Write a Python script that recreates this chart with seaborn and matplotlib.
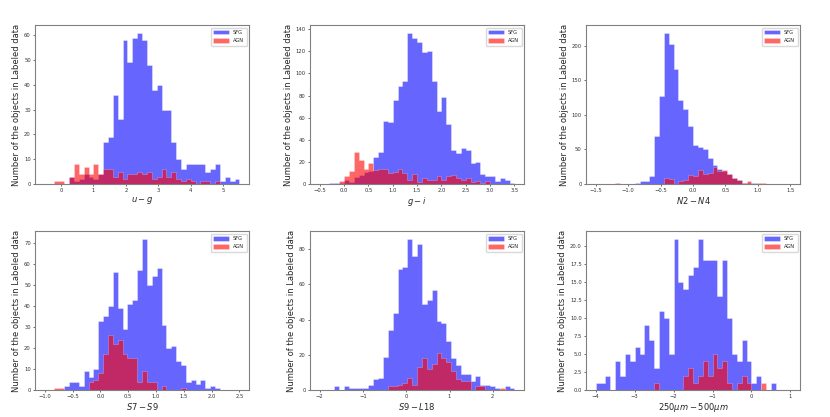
import numpy as np
import pandas as pd
import matplotlib
matplotlib.use('Agg')
import matplotlib.pyplot as plt
import seaborn as sns
from matplotlib.ticker import MultipleLocator

sns.set_style('ticks')
plt.rcParams['font.family'] = ['DejaVu Sans']
plt.rcParams['mathtext.fontset'] = 'dejavusans'
plt.rcParams['axes.edgecolor'] = '#808080'
plt.rcParams['axes.linewidth'] = 0.8

# counts per bin, 40 shared bins per panel (SFG = blue, AGN = red)
ug_range = (-0.5, 5.5)
sfg_ug = [0,0,0,0,0,3,1,2,4,3,2,4,17,19,36,26,58,49,59,61,58,48,38,40,30,30,17,10,6,8,8,8,8,5,6,8,1,3,1,2]
agn_ug = [0,0,1,1,0,3,8,4,7,4,8,4,6,6,3,5,2,4,4,5,4,5,2,3,6,3,5,2,1,2,1,0,1,1,0,1,0,0,0,0]

gi_range = (-0.5, 3.5)
sfg_gi = [0,0,1,1,1,4,2,6,8,11,12,24,29,57,56,76,89,93,137,132,128,119,120,93,66,79,54,31,28,33,31,19,20,9,7,7,3,5,4,1]
agn_gi = [0,0,0,0,3,7,12,29,22,14,19,13,14,14,10,11,14,10,4,9,2,5,4,4,7,4,7,8,5,4,5,2,3,1,3,0,0,0,0,0]

n24_range = (-1.5, 1.5)
sfg_n24 = [0]*8 + [2,4,4,11,69,127,219,203,167,122,109,84,56,53,51,37,27,21,19,14,8,6,2,1,1] + [0]*7
agn_n24 = [0]*4 + [1,0,0,0,0,0,0,0,0,0,8,7,0,5,6,13,12,20,14,16,25,19,20,14,8,6,2,4,0,1,1] + [0]*5

s79_range = (-1.0, 2.5)
sfg_s79 = [0]*4 + [2,4,4,2,9,6,10,33,35,40,56,39,29,41,43,57,72,50,54,58,31,20,21,14,12,4,5,3,5,1,2,1] + [0]*4
agn_s79 = [0,0] + [1,1,0,0,0,0,0,4,5,8,17,26,22,24,17,15,15,4,9,4,4,0,2,0,0,0,1] + [0]*11

s9l18_range = (-2.0, 2.5)
sfg_s9l18 = [0,0,0,2,0,2,1,1,1,1,3,6,7,19,34,44,69,70,86,76,83,49,51,57,39,38,28,18,14,9,9,5,8,3,3,2,1,0,2,1]
agn_s9l18 = [0]*14 + [2,2,3,4,7,3,13,18,12,15,21,18,16,11,6,5,5,0,2,2,0,0,0,1] + [0]*2

fir_range = (-4.0, 1.0)
sfg_fir = [1,1,2,0,4,2,5,4,6,5,9,7,3,11,10,5,21,15,14,16,17,21,18,18,18,13,18,10,5,4,7,4,1,2,0,0,1,0,0,0]
agn_fir = [0]*12 + [1,0,0,0,0,0,2,3,1,2,4,2,5,3,4,1,0,1,2,1,0,0,1] + [0]*5

xlabels = [r'$u-g$', r'$g-i$', r'$N2-N4$', r'$S7-S9$', r'$S9-L18$', r'$250\mu m-500\mu m$']
xsteps = [1, 0.5, 0.5, 0.5, 1, 1]
ysteps = [10, 20, 50, 10, 20, 2.5]

panels = [(ug_range, sfg_ug, agn_ug), (gi_range, sfg_gi, agn_gi), (n24_range, sfg_n24, agn_n24),
          (s79_range, sfg_s79, agn_s79), (s9l18_range, sfg_s9l18, agn_s9l18), (fir_range, sfg_fir, agn_fir)]

fig = plt.figure(figsize=(8.3, 4.17), dpi=100)
lefts = [0.0422, 0.3735, 0.706]
bottoms = [0.5588, 0.0647]

for i, (rng, sfg, agn) in enumerate(panels):
    ax = fig.add_axes([lefts[i % 3], bottoms[i // 3], 0.258, 0.3813])
    edges = np.linspace(rng[0], rng[1], len(sfg) + 1)
    centers = (edges[:-1] + edges[1:]) / 2
    df = pd.DataFrame({'x': centers, 'sfg': sfg, 'agn': agn})
    sns.histplot(data=df, x='x', weights='sfg', bins=list(edges), element='step', color='blue', alpha=0.6,
                 edgecolor=(1, 1, 1, 0.45), linewidth=0.5, label='SFG', ax=ax)
    sns.histplot(data=df, x='x', weights='agn', bins=list(edges), element='step', color='red', alpha=0.6,
                 edgecolor=(1, 1, 1, 0.3), linewidth=0.5, label='AGN', ax=ax)
    pad = 0.05 * (rng[1] - rng[0])
    ax.set_xlim(rng[0] - pad, rng[1] + pad)
    ax.xaxis.set_major_locator(MultipleLocator(xsteps[i]))
    ax.yaxis.set_major_locator(MultipleLocator(ysteps[i]))
    ax.tick_params(labelsize=3.8, length=1.5, width=0.5, pad=1.5, colors='#333333')
    ax.set_xlabel(xlabels[i], fontsize=6, labelpad=1)
    ax.set_ylabel('Number of the objects in Labeled data', fontsize=6, labelpad=2)
    ax.legend(loc='upper right', fontsize=3.7, handlelength=3.0, handleheight=0.9, borderpad=0.5,
              labelspacing=0.6, frameon=True, edgecolor='#d0d0d0')

plt.savefig('out.png', dpi=100)
